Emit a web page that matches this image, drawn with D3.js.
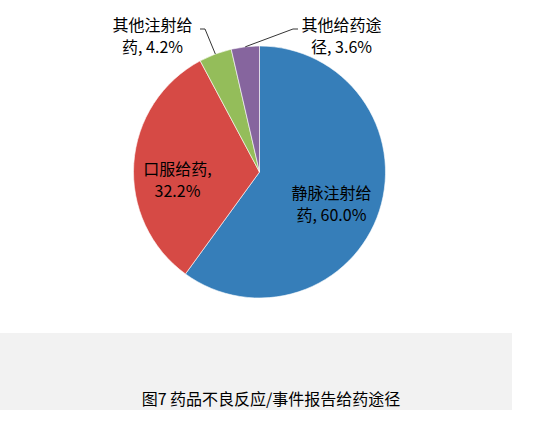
<!DOCTYPE html>
<html>
<head>
<meta charset="utf-8">
<script src="https://cdn.jsdelivr.net/npm/d3@7"></script>
<style>
  html, body { margin: 0; padding: 0; background: #fff; }
  svg { display: block; font-family: "Noto Sans CJK SC", "Noto Sans", sans-serif; }
</style>
</head>
<body>
<svg id="chart"></svg>
<script>
const categories = ["静脉注射给药", "口服给药", "其他注射给药", "其他给药途径"];
const values = [60.0, 32.2, 4.2, 3.6];
const colors = ["#367EB9", "#D64A45", "#94BD5A", "#86659E"];
const title = "图7 药品不良反应/事件报告给药途径";

const w = 535, h = 426;
const cx = 259.5, cy = 172, r = 126;

// where each label sits (relative to pie centre) and where the leader bends
const labelLayout = [
  {x: 72, y: 31, inside: true},
  {x: -82, y: 7, inside: true},
  {x: -107, y: -137, elbow: [-54.5, -143], end: [-59.5, -143]},
  {x: 82, y: -137, elbow: [33.5, -143], end: [38.5, -143]}
];

const svg = d3.select("#chart")
  .attr("width", w)
  .attr("height", h);

// grey caption band
svg.append("rect")
  .attr("x", 0).attr("y", 333)
  .attr("width", 512).attr("height", 77)
  .attr("fill", "#F2F2F2");

svg.append("text")
  .attr("x", 271).attr("y", 398)
  .attr("text-anchor", "middle")
  .attr("dominant-baseline", "central")
  .attr("font-size", 16)
  .attr("fill", "#000")
  .text(title);

const data = categories.map((c, i) => ({cat: c, value: values[i], color: colors[i], i}));

const pie = d3.pie().sort(null).value(d => d.value);
const arc = d3.arc().innerRadius(0).outerRadius(r);
const edgeArc = d3.arc().innerRadius(r).outerRadius(r);

const g = svg.append("g").attr("transform", `translate(${cx},${cy})`);
const arcs = pie(data);

g.selectAll("path.slice")
  .data(arcs)
  .join("path")
  .attr("class", "slice")
  .attr("d", arc)
  .attr("fill", d => d.data.color)
  .attr("stroke", "#fff")
  .attr("stroke-width", 0.6);

// leader lines for the small outside slices
g.selectAll("polyline.leader")
  .data(arcs.filter(d => !labelLayout[d.data.i].inside))
  .join("polyline")
  .attr("class", "leader")
  .attr("fill", "none")
  .attr("stroke", "#000")
  .attr("stroke-width", 0.8)
  .attr("points", d => {
    const L = labelLayout[d.data.i];
    return [edgeArc.centroid(d), L.elbow, L.end].map(p => p.join(",")).join(" ");
  });

const lbl = g.selectAll("text.lbl")
  .data(arcs)
  .join("text")
  .attr("class", "lbl")
  .attr("text-anchor", "middle")
  .attr("font-size", 16)
  .attr("fill", "#000")
  .attr("transform", d => {
    const L = labelLayout[d.data.i];
    return `translate(${L.x},${L.y})`;
  });

lbl.each(function(d) {
  const full = `${d.data.cat}, ${d.data.value.toFixed(1)}%`;
  const lines = [full.slice(0, 5), full.slice(5).trim()];
  d3.select(this).selectAll("tspan")
    .data(lines)
    .join("tspan")
    .attr("x", 0)
    .attr("y", (t, k) => (k - 0.5) * 22)
    .attr("dominant-baseline", "central")
    .text(t => t);
});
</script>
</body>
</html>
